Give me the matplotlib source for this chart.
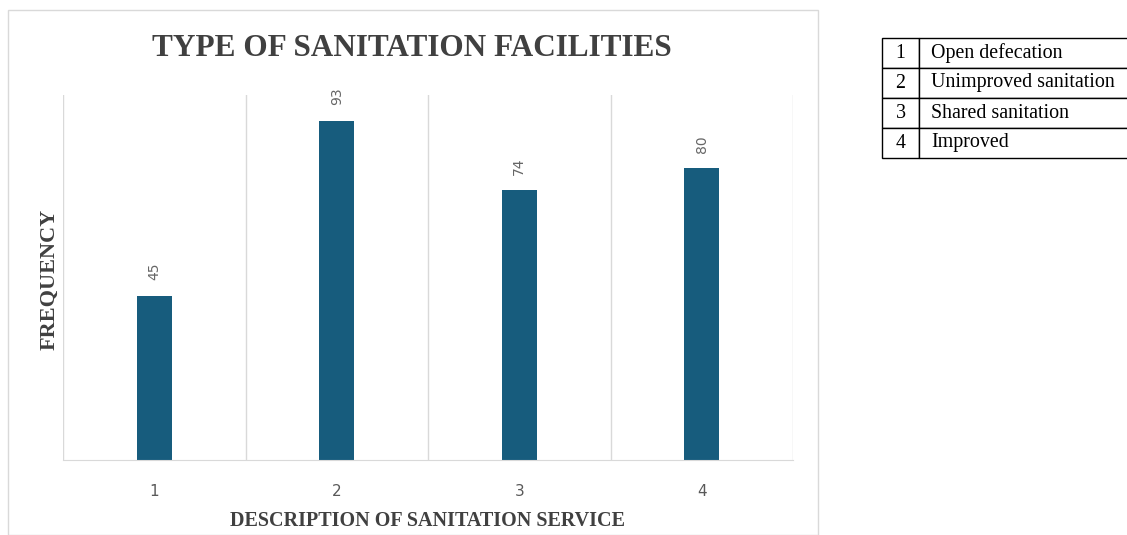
import matplotlib.pyplot as plt
from matplotlib.patches import Rectangle

categories = ["1", "2", "3", "4"]
frequency = [45, 93, 74, 80]
descriptions = ["Open defecation", "Unimproved sanitation", "Shared sanitation", "Improved"]

W, H = 1127, 535
fig = plt.figure(figsize=(W / 100, H / 100), dpi=100)

# light frame around the chart area
fig.add_artist(Rectangle((8 / W, 0), 810 / W, 525 / H, transform=fig.transFigure,
                         fill=False, edgecolor="#d9d9d9", linewidth=1))

ax = fig.add_axes([63 / W, 75 / H, 730 / W, 365 / H])
x = range(1, len(categories) + 1)
bars = ax.bar(x, frequency, width=0.19, color="#175c7d")
ax.set_xlim(0.5, 4.5)
ax.set_ylim(0, 100)
for b in [0.5, 1.5, 2.5, 3.5, 4.5]:
    ax.axvline(b, color="#d9d9d9", linewidth=1, zorder=0)
for s in ["top", "right", "left"]:
    ax.spines[s].set_visible(False)
ax.spines["bottom"].set_color("#d9d9d9")
ax.set_yticks([])
ax.set_xticks(list(x))
ax.set_xticklabels(categories, fontsize=11, color="#595959")
ax.tick_params(axis="x", length=0, pad=17)

for rect, v in zip(bars, frequency):
    ax.annotate(str(v), (rect.get_x() + rect.get_width() / 2, v), xytext=(0, 11),
                textcoords="offset points", rotation=90, ha="center", va="bottom",
                fontsize=10, color="#666666")

fig.text(412 / W, 1 - 48 / H, "TYPE OF SANITATION FACILITIES", ha="center", va="center",
         family="Liberation Serif", fontweight="bold", fontsize=22.5, color="#404040")
fig.text(428 / W, 1 - 521 / H, "DESCRIPTION OF SANITATION SERVICE", ha="center", va="center",
         family="Liberation Serif", fontweight="bold", fontsize=14.5, color="#404040")
fig.text(50 / W, 1 - 279 / H, "FREQUENCY", ha="center", va="center", rotation=90,
         family="Liberation Serif", fontweight="bold", fontsize=16, color="#404040")

# legend table
tax = fig.add_axes([882 / W, (H - 158) / H, 260 / W, 120 / H])
tax.axis("off")
rows = [[c, d] for c, d in zip(categories, descriptions)]
tbl = tax.table(cellText=rows, colWidths=[37 / 260, 223 / 260], bbox=[0, 0, 1, 1],
                cellLoc="left")
tbl.auto_set_font_size(False)
for (r, c), cell in tbl.get_celld().items():
    cell.set_edgecolor("black")
    cell.set_linewidth(1)
    cell.set_text_props(family="Liberation Serif", fontsize=14.4)
    if c == 0:
        cell.set_text_props(ha="center")
    else:
        cell.set_text_props(ha="left")
        cell.PAD = 0.055
tbl.set_clip_on(False)

fig.savefig("out.png", dpi=100)
